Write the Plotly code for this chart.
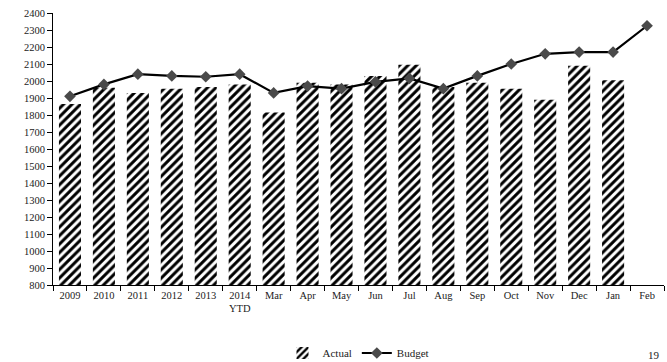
import plotly.graph_objects as go

categories = ["2009", "2010", "2011", "2012", "2013", "2014<br>YTD", "Mar", "Apr", "May",
              "Jun", "Jul", "Aug", "Sep", "Oct", "Nov", "Dec", "Jan", "Feb"]
actual = [1865, 1960, 1930, 1955, 1965, 1980, 1815, 1990, 1980,
          2030, 2095, 1965, 1990, 1955, 1890, 2090, 2005, None]
budget = [1910, 1980, 2040, 2030, 2025, 2040, 1930, 1970, 1955,
          1995, 2015, 1955, 2030, 2100, 2160, 2170, 2170, 2325]

font_family = "Liberation Serif, DejaVu Serif, serif"

fig = go.Figure()
fig.add_trace(go.Bar(
    x=categories, y=actual, name="Actual",
    marker=dict(color="white", line=dict(width=0),
                pattern=dict(shape="/", fgcolor="black", bgcolor="white",
                             size=6, solidity=0.5, fgopacity=1)),
))
fig.add_trace(go.Scatter(
    x=categories, y=budget, name="Budget", mode="lines+markers",
    line=dict(color="black", width=2.2),
    marker=dict(symbol="diamond", size=9, color="#4a4a4a"),
))

fig.update_layout(
    width=667, height=362,
    margin=dict(l=53, r=3, t=13, b=77, autoexpand=False),
    plot_bgcolor="white", paper_bgcolor="white",
    bargap=0.35,
    font=dict(family=font_family, size=11, color="#222222"),
    showlegend=True,
    legend=dict(orientation="h", x=0.5, xanchor="center", y=-0.25, yanchor="middle",
                font=dict(size=11), tracegroupgap=0),
    xaxis=dict(showline=True, linecolor="black", linewidth=1, ticks="outside",
               tickson="boundaries", ticklen=5, tickcolor="black", showgrid=False,
               tickangle=0, automargin=False, range=[-0.5, 17.5],
               tickfont=dict(size=10.5)),
    yaxis=dict(range=[800, 2400], dtick=100, showline=True, linecolor="black",
               linewidth=1, ticks="outside", ticklen=5, tickcolor="black",
               showgrid=False, zeroline=False, automargin=False,
               tickfont=dict(size=10.5)),
)
fig.add_annotation(text="19", x=1.0, y=0, xref="paper", yref="paper",
                   xanchor="right", yanchor="top", showarrow=False,
                   xshift=-2, yshift=-62, font=dict(size=11))

fig.write_html("out.html", config={"responsive": False, "displayModeBar": False},
               post_script="document.body.style.margin='0';document.body.style.padding='0';")
